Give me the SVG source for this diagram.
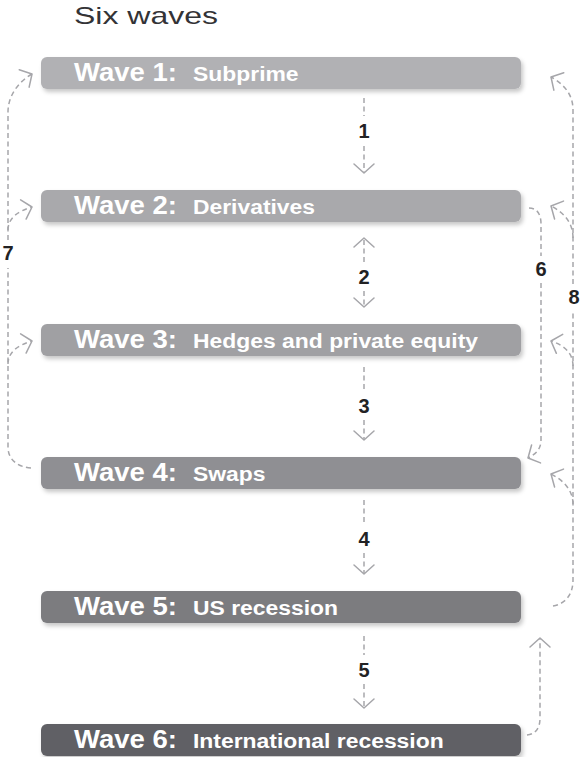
<svg xmlns="http://www.w3.org/2000/svg" width="582" height="757" viewBox="0 0 582 757">
  <defs>
    <style>
      .title { font-family: "Liberation Sans", Arial, sans-serif; font-size: 24px; fill: #333336; }
      .bar { filter: url(#shadow); }
      .wave { font-family: "Liberation Sans", Arial, sans-serif; font-size: 25px; font-weight: bold; fill: #ffffff; }
      .lbl { font-family: "Liberation Sans", Arial, sans-serif; font-size: 19.5px; font-weight: bold; fill: #ffffff; }
      .num { font-family: "Liberation Sans", Arial, sans-serif; font-size: 20px; font-weight: bold; fill: #222224; text-anchor: middle; }
      .link { fill: none; stroke: #a6a6aa; stroke-width: 1.5; stroke-dasharray: 5 3.5; }
      .head { fill: none; stroke: #a6a6aa; stroke-width: 1.5; stroke-linecap: round; stroke-linejoin: round; }
    </style>
    <filter id="shadow" x="-5%" y="-30%" width="112%" height="180%">
      <feDropShadow dx="2" dy="3" stdDeviation="2" flood-color="#000000" flood-opacity="0.22"/>
    </filter>
    <marker id="chev" markerUnits="userSpaceOnUse" markerWidth="24" markerHeight="24" viewBox="-12 -12 24 24" refX="0" refY="0" orient="auto">
      <path class="head" d="M-9,-10 L0,0 L-9,10"/>
    </marker>
  </defs>

  <text class="title" x="74" y="24" textLength="144" lengthAdjust="spacingAndGlyphs">Six waves</text>

  <!-- connectors -->
  <g id="connectors">
    <!-- 1: Wave 1 -> Wave 2 -->
    <path class="link" d="M364,98 L364,116"/>
    <path class="link" d="M364,146 L364,173" marker-end="url(#chev)"/>
    <!-- 2: Wave 2 <-> Wave 3 -->
    <path class="link" d="M364,262 L364,238" marker-end="url(#chev)"/>
    <path class="link" d="M364,291 L364,307" marker-end="url(#chev)"/>
    <!-- 3: Wave 3 -> Wave 4 -->
    <path class="link" d="M364,367 L364,392"/>
    <path class="link" d="M364,420 L364,440" marker-end="url(#chev)"/>
    <!-- 4: Wave 4 -> Wave 5 -->
    <path class="link" d="M364,500 L364,525"/>
    <path class="link" d="M364,553 L364,574" marker-end="url(#chev)"/>
    <!-- 5: Wave 5 -> Wave 6 -->
    <path class="link" d="M364,636 L364,655"/>
    <path class="link" d="M364,684 L364,708" marker-end="url(#chev)"/>

    <!-- 7: Wave 4 back to Waves 1, 2, 3 (left side) -->
    <path class="link" d="M31,468 C18,467 8,460 8,447 L8,268"/>
    <path class="link" d="M8,240 L8,112 C8,96 18,82 32,74" marker-end="url(#chev)"/>
    <path class="link" d="M8,230 C8,218 18,211 32,207" marker-end="url(#chev)"/>
    <path class="link" d="M8,364 C8,352 18,345 32,341" marker-end="url(#chev)"/>

    <!-- 6: Wave 2 -> Wave 4 (right side) -->
    <path class="link" d="M529,208 C537,208 541,214 541,224 L541,256"/>
    <path class="link" d="M541,283 L541,440 C541,449 536,454 528,458" marker-end="url(#chev)"/>

    <!-- 8: Wave 5 back to Waves 1-4 (right side) -->
    <path class="link" d="M553,606 C565,604 573,595 573,580 L573,312"/>
    <path class="link" d="M573,284 L573,110 C573,95 565,85 551,77" marker-end="url(#chev)"/>
    <path class="link" d="M573,238 C573,222 563,212 551,206" marker-end="url(#chev)"/>
    <path class="link" d="M573,366 C573,352 563,345 551,341" marker-end="url(#chev)"/>
    <path class="link" d="M573,504 C573,490 563,480 551,474" marker-end="url(#chev)"/>

    <!-- Wave 6 -> Wave 5 -->
    <path class="link" d="M527,735 C536,734 540,728 540,718 L540,638" marker-end="url(#chev)"/>

    <text class="num" x="364" y="138">1</text>
    <text class="num" x="364" y="284">2</text>
    <text class="num" x="364" y="413">3</text>
    <text class="num" x="364" y="546">4</text>
    <text class="num" x="364" y="677">5</text>
    <text class="num" x="541" y="276">6</text>
    <text class="num" x="8" y="260">7</text>
    <text class="num" x="574" y="304">8</text>
  </g>

  <g id="wave1">
    <rect class="bar" x="41" y="57" width="480" height="32" rx="6" fill="#b1b1b4"/>
    <text class="wave" x="74" y="81" textLength="103" lengthAdjust="spacingAndGlyphs">Wave 1:</text>
    <text class="lbl" x="193" y="81" textLength="105.6" lengthAdjust="spacingAndGlyphs">Subprime</text>
  </g>
  <g id="wave2">
    <rect class="bar" x="41" y="190" width="480" height="32" rx="6" fill="#a9a9ac"/>
    <text class="wave" x="74" y="214" textLength="103" lengthAdjust="spacingAndGlyphs">Wave 2:</text>
    <text class="lbl" x="193" y="214" textLength="122" lengthAdjust="spacingAndGlyphs">Derivatives</text>
  </g>
  <g id="wave3">
    <rect class="bar" x="41" y="324" width="480" height="32" rx="6" fill="#a0a0a3"/>
    <text class="wave" x="74" y="348" textLength="103" lengthAdjust="spacingAndGlyphs">Wave 3:</text>
    <text class="lbl" x="193" y="348" textLength="285" lengthAdjust="spacingAndGlyphs">Hedges and private equity</text>
  </g>
  <g id="wave4">
    <rect class="bar" x="41" y="457" width="480" height="32" rx="6" fill="#8f8f93"/>
    <text class="wave" x="74" y="481" textLength="103" lengthAdjust="spacingAndGlyphs">Wave 4:</text>
    <text class="lbl" x="193" y="481" textLength="72.5" lengthAdjust="spacingAndGlyphs">Swaps</text>
  </g>
  <g id="wave5">
    <rect class="bar" x="41" y="591" width="480" height="32" rx="6" fill="#7b7b7f"/>
    <text class="wave" x="74" y="615" textLength="103" lengthAdjust="spacingAndGlyphs">Wave 5:</text>
    <text class="lbl" x="193" y="615" textLength="145" lengthAdjust="spacingAndGlyphs">US recession</text>
  </g>
  <g id="wave6">
    <rect class="bar" x="41" y="724" width="480" height="32" rx="6" fill="#616165"/>
    <text class="wave" x="74" y="748" textLength="103" lengthAdjust="spacingAndGlyphs">Wave 6:</text>
    <text class="lbl" x="193" y="748" textLength="250.7" lengthAdjust="spacingAndGlyphs">International recession</text>
  </g>
</svg>
